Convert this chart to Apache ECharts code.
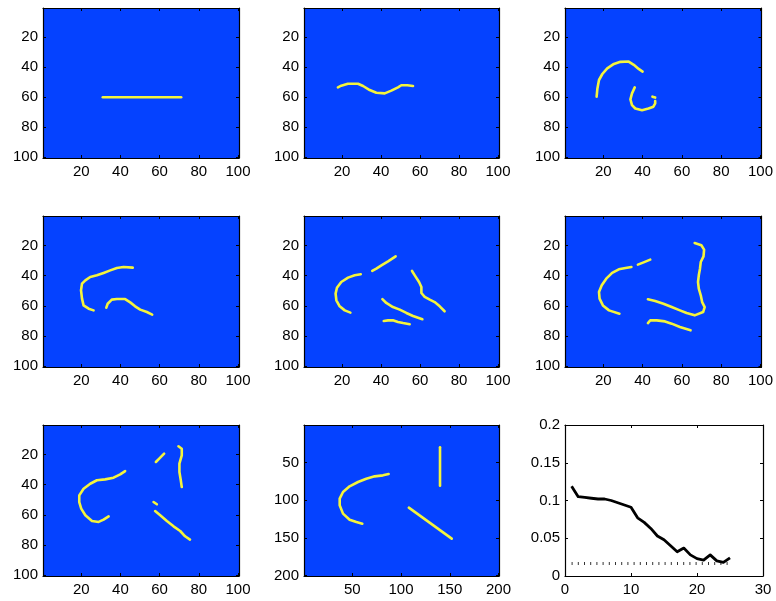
<!DOCTYPE html>
<html>
<head>
<meta charset="utf-8">
<script src="https://cdn.jsdelivr.net/npm/echarts@6/dist/echarts.min.js"></script>
<style>
html,body{margin:0;padding:0;background:#fff;}
#chart{width:776px;height:601px;}
</style>
</head>
<body>
<div id="chart"></div>
<script>
// ---------- data: curves in image pixel coordinates [col, row] ----------
const img1Curves = [
  [[31,60],[71,60]]
];
const img2Curves = [
  [[17.9,53.4],[19.6,52.3],[23,51],[28.2,51],[30.8,52.5],[34.2,55.2],[37.6,57],[41.9,57.4],[45.3,55.6],[48.7,53.4],[50.4,52],[53.5,52],[56.4,52.5]]
];
const img3Curves = [
  [[16.6,59.6],[17.0,54.1],[17.8,48.5],[19.5,44.5],[22.0,40.7],[25.4,37.8],[28.7,36.4],[32.9,36.2],[35.5,38.4],[38.0,41.1],[40.0,42.9]],
  [[36.0,53.4],[34.6,57.4],[33.8,61.4],[34.6,65.2],[36.3,67.5],[39.7,68.6],[43.0,67.5],[45.5,66.3],[46.4,64.1],[46.4,62.5]],
  [[45.0,59.6],[46.4,60.2]]
];
const img4Curves = [
  [[26.3,63.0],[23.8,61.9],[21.2,59.7],[20.4,55.2],[19.9,49.7],[20.4,45.3],[22.1,43.1],[24.6,40.9],[28.0,39.8],[31.4,38.2],[34.8,36.5],[38.2,34.9],[41.6,34.3],[46.3,34.7]],
  [[32.8,61.2],[33.5,58.6],[35.6,55.9],[38.2,55.5],[42.4,55.5],[45.0,57.7],[47.5,60.3],[50.1,62.5],[53.5,64.1],[56.2,65.8]]
];
const img5Curves = [
  [[29.6,39.1],[26.5,39.8],[23.1,41.3],[19.6,44.2],[17.4,48.0],[16.7,51.9],[17.1,56.3],[18.8,60.3],[21.4,63.0],[24.3,64.5]],
  [[35.5,36.9],[37.6,35.4],[40.2,33.2],[43.6,30.5],[47.5,27.2]],
  [[55.9,36.9],[57.3,39.8],[59.5,44.2],[60.7,47.5],[60.7,51.5],[62.4,54.1],[65.0,55.9],[67.5,57.5],[70.1,60.3],[72.6,63.6]],
  [[40.7,55.5],[42.7,58.1],[46.1,60.8],[49.6,62.5],[53.0,64.7],[56.4,66.7],[61.2,68.9]],
  [[41.4,70.0],[43.6,69.6],[46.1,69.6],[48.7,70.7],[51.3,71.4],[54.7,72.2]]
];
const img6Curves = [
  [[34.3,34.3],[31.3,35.0],[27.9,35.8],[24.5,38.2],[21.5,42.0],[19.2,46.4],[17.8,50.8],[18.1,55.2],[19.8,59.7],[22.9,63.0],[28.2,65.2]],
  [[37.6,32.7],[40.5,31.2],[43.9,29.4]],
  [[42.7,55.7],[46.4,56.8],[50.6,58.6],[54.8,60.8],[59.0,63.0],[62.4,64.7],[66.5,66.3],[70.8,64.1],[71.6,60.8],[70.3,57.5],[69.6,53.0],[68.6,48.6],[68.2,44.2],[68.6,39.8],[69.2,35.4],[69.6,31.0],[71.0,27.2],[71.3,22.8],[69.9,19.9],[66.5,18.4]],
  [[42.7,71.4],[43.9,69.6],[47.2,69.6],[51.4,70.3],[54.8,71.8],[59.0,74.0],[64.4,76.2]]
];
const img7Curves = [
  [[42.4,31.0],[39.9,33.2],[36.5,35.4],[32.2,36.5],[28.0,37.1],[24.6,39.4],[21.2,42.7],[19.0,47.1],[19.0,51.5],[20.0,55.9],[22.1,60.3],[25.5,64.1],[28.9,64.7],[31.4,63.2],[34.0,61.0]],
  [[58.1,25.0],[60.3,22.1],[62.3,19.5]],
  [[69.6,14.6],[71.3,16.2],[71.3,20.6],[70.1,26.1],[70.1,31.6],[70.8,37.1],[71.3,41.6]],
  [[56.9,51.5],[58.6,53.0]],
  [[57.7,57.5],[60.3,60.3],[63.7,64.1],[67.1,67.6],[70.5,70.7],[73.0,74.2],[75.5,76.4]]
];
const img8Curves = [
  [[87.3,65.4],[81.5,67.2],[73.0,68.5],[64.4,71.6],[55.9,76.0],[47.3,81.7],[40.5,89.2],[37.1,98.1],[37.1,106.9],[40.5,117.9],[47.3,125.9],[54.2,129.0],[60.3,131.2]],
  [[140,30],[140,81]],
  [[108,110],[152,151]]
];
const ticks100 = [20,40,60,80,100];
const ticks200 = [50,100,150,200];

// ---------- data: error curve ----------
const iterations = [1,2,3,4,5,6,7,8,9,10,11,12,13,14,15,16,17,18,19,20,21,22,23,24,25];
const errorValues = [0.119,0.105,0.104,0.103,0.102,0.102,0.100,0.097,0.094,0.091,0.077,0.071,0.063,0.053,0.048,0.040,0.032,0.037,0.028,0.023,0.021,0.028,0.020,0.018,0.024];
const noiseX = [1,25];
const noiseLevel = 0.0164;
const errXTicks = [0,10,20,30];
const errYTicks = [0,0.05,0.1,0.15,0.2];

// ---------- layout ----------
const BLUE = '#0542ff';
const YELLOW = '#f4f43c';
const FONT = 'Liberation Sans';
const FS = 15;
const cols = [{left:43,width:196},{left:304,width:195},{left:565,width:198}];
const rows = [{top:8,height:150},{top:216,height:151},{top:425,height:151}];

const panels = [
  {curves: img1Curves, size: 100, ticks: ticks100},
  {curves: img2Curves, size: 100, ticks: ticks100},
  {curves: img3Curves, size: 100, ticks: ticks100},
  {curves: img4Curves, size: 100, ticks: ticks100},
  {curves: img5Curves, size: 100, ticks: ticks100},
  {curves: img6Curves, size: 100, ticks: ticks100},
  {curves: img7Curves, size: 100, ticks: ticks100},
  {curves: img8Curves, size: 200, ticks: ticks200},
  {plot: true}
];

const grid = [], xAxis = [], yAxis = [], series = [];
const lineStyleAx = {show:true, onZero:false, lineStyle:{color:'#000', width:1.2}};
const labelStyle = {color:'#000', fontFamily:FONT, fontSize:FS};

panels.forEach((p, i) => {
  const c = cols[i % 3], r = rows[Math.floor(i / 3)];
  grid.push({left:c.left, top:r.top, width:c.width, height:r.height,
    show: !p.plot, backgroundColor: p.plot ? 'transparent' : BLUE, borderWidth:0, containLabel:false});
  let xmin, xmax, ymin, ymax, xt, yt, inv;
  if (p.plot) { xmin=0; xmax=30; ymin=0; ymax=0.2; xt=errXTicks; yt=errYTicks; inv=false; }
  else { xmin=0.5; xmax=p.size+0.5; ymin=0.5; ymax=p.size+0.5; xt=p.ticks; yt=p.ticks; inv=true; }
  const base = {type:'value', gridIndex:i, splitLine:{show:false}, axisLine:lineStyleAx};
  const xi = xAxis.length, yi = yAxis.length;
  xAxis.push(Object.assign({}, base, {position:'bottom', min:xmin, max:xmax,
    axisTick:{show:true, inside:true, length:3, customValues:xt, lineStyle:{color:'#000'}},
    axisLabel:Object.assign({show:true, margin:6, customValues:xt}, labelStyle)}));
  xAxis.push(Object.assign({}, base, {position:'top', min:xmin, max:xmax,
    axisTick:{show:true, inside:true, length:3, customValues:xt, lineStyle:{color:'#000'}},
    axisLabel:{show:false}}));
  yAxis.push(Object.assign({}, base, {position:'left', min:ymin, max:ymax, inverse:inv,
    axisTick:{show:true, inside:true, length:3, customValues:yt, lineStyle:{color:'#000'}},
    axisLabel:Object.assign({show:true, margin:5, customValues:yt}, labelStyle)}));
  yAxis.push(Object.assign({}, base, {position:'right', min:ymin, max:ymax, inverse:inv,
    axisTick:{show:true, inside:true, length:3, customValues:yt, lineStyle:{color:'#000'}},
    axisLabel:{show:false}}));
  if (p.plot) {
    series.push({type:'line', xAxisIndex:xi, yAxisIndex:yi, showSymbol:false, silent:true,
      data: noiseX.map(x => [x, noiseLevel]),
      lineStyle:{color:'#333', width:3, type:[1,5.2], cap:'butt'}});
    series.push({type:'line', xAxisIndex:xi, yAxisIndex:yi, showSymbol:false, silent:true,
      data: iterations.map((x, k) => [x, errorValues[k]]),
      lineStyle:{color:'#000', width:2.8, join:'round'}});
  } else {
    p.curves.forEach(cv => {
      series.push({type:'line', xAxisIndex:xi, yAxisIndex:yi, showSymbol:false, silent:true,
        data: cv, lineStyle:{color:YELLOW, width:2.6, join:'round', cap:'round'}});
    });
  }
});

const chart = echarts.init(document.getElementById('chart'), null, {renderer:'canvas'});
chart.setOption({animation:false, backgroundColor:'#fff', grid, xAxis, yAxis, series});
</script>
</body>
</html>
